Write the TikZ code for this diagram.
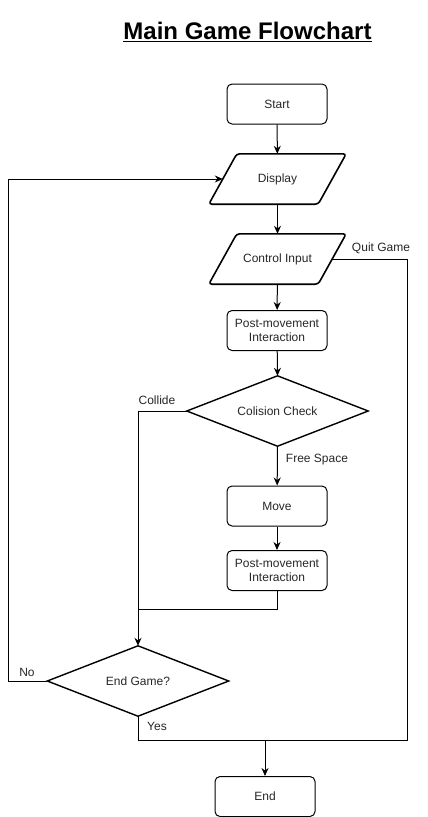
\documentclass[tikz,border=0pt]{standalone}
\usepackage{fontspec}
\setmainfont{Liberation Sans}
\usetikzlibrary{shapes.geometric,arrows.meta}
\begin{document}
\begin{tikzpicture}[x=1pt,y=-1pt,
  every node/.style={font=\fontsize{12}{14}\selectfont, text=black!85},
  proc/.style={draw, line width=1pt, rounded corners=5pt, minimum width=100pt, minimum height=40pt, align=center, inner sep=0pt},
  iobox/.style={minimum width=137pt, minimum height=50pt, inner sep=0pt},
  iodraw/.style={draw, line width=1.6pt, rounded corners=3pt},
  decide/.style={minimum width=181pt, minimum height=70pt, inner sep=0pt},
  ddraw/.style={draw, line width=1.4pt},
  lbl/.style={font=\fontsize{12}{14}\selectfont},
  conn/.style={line width=1pt},
  arr/.style={conn, -{Stealth[length=8pt,width=7pt]}}
]
\useasboundingbox (0,0) rectangle (428,817);
\node[font=\bfseries\fontsize{24}{28}\selectfont, text=black] (title) at (247.5,32) {\underline{Main Game Flowchart}};

\node[proc] (start) at (277,104) {Start};
\node[iobox] (disp) at (277.5,179) {Display};
\draw[iodraw] (disp.south west) -- ([xshift=28pt]disp.north west) -- (disp.north east) -- ([xshift=-28pt]disp.south east) -- cycle;
\node[iobox] (ctrl) at (277.5,259) {Control Input};
\draw[iodraw] (ctrl.south west) -- ([xshift=28pt]ctrl.north west) -- (ctrl.north east) -- ([xshift=-28pt]ctrl.south east) -- cycle;
\node[proc] (pm1) at (277,330.5) {Post-movement\\Interaction};
\node[decide] (col) at (277.5,411) {Colision Check};
\draw[ddraw] (col.west) -- (col.north) -- (col.east) -- (col.south) -- cycle;
\node[proc] (move) at (277,506) {Move};
\node[proc] (pm2) at (277,570.5) {Post-movement\\Interaction};
\node[decide] (endg) at (138,681) {End Game?};
\draw[ddraw] (endg.west) -- (endg.north) -- (endg.east) -- (endg.south) -- cycle;
\node[proc] (endn) at (265,796.5) {End};

\coordinate (dispin) at ([xshift=14pt]disp.west);
\coordinate (ctrlout) at ([xshift=-14pt]ctrl.east);
\coordinate (qr) at (407,259);
\coordinate (qb) at (407,740);
\coordinate (yb) at (138,740);
\coordinate (ej) at (265,740);
\coordinate (cl) at (138,411);
\coordinate (mj) at (138,609);
\coordinate (pj) at (277,609);
\coordinate (nl) at (8,681);
\coordinate (nt) at (8,179);

\draw[arr] (start) -- (disp);
\draw[arr] (disp) -- (ctrl);
\draw[arr] (ctrl) -- (pm1);
\draw[arr] (pm1) -- (col.north);
\draw[arr] (col.south) -- (move);
\draw[arr] (move) -- (pm2);
\draw[conn] (pm2.south) -- (pj) -- (mj);
\draw[arr] (col.west) -- (cl) -- (endg.north);
\draw[arr] (endg.west) -- (nl) -- (nt) -- (dispin);
\draw[conn] (ctrlout) -- (qr) -- (qb) -- (yb) -- (endg.south);
\draw[arr] (ej) -- (endn.north);

\node[lbl] (lquit) at (381,248) {Quit Game};
\node[lbl] (lcol) at (157,400) {Collide};
\node[lbl] (lfree) at (317,460) {Free Space};
\node[lbl] (lno) at (27,672) {No};
\node[lbl] (lyes) at (157,726) {Yes};
\end{tikzpicture}
\end{document}
